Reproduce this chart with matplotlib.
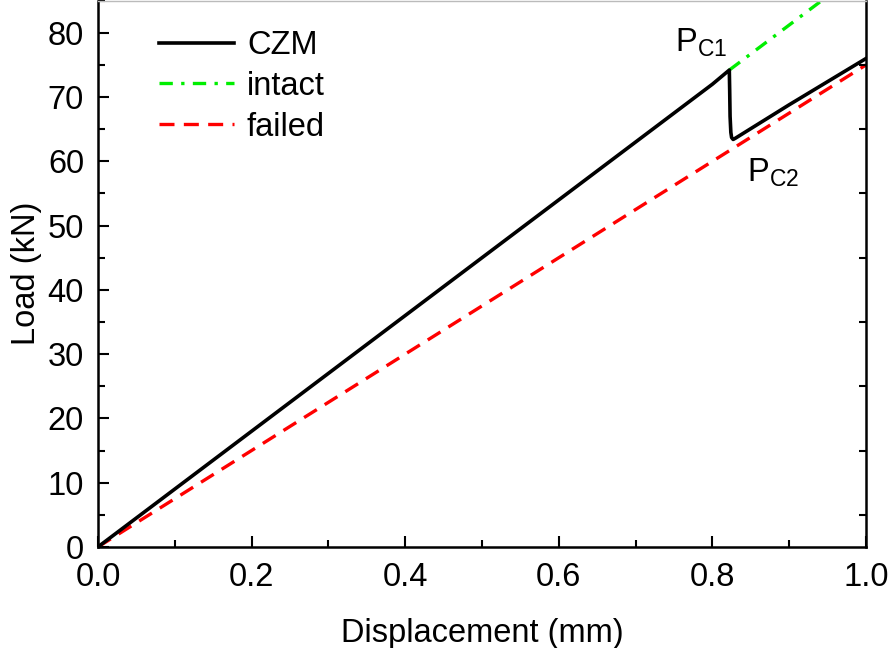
import numpy as np
import matplotlib.pyplot as plt
from matplotlib.ticker import MultipleLocator, FixedLocator

# Load-displacement data
czm_x = [0.0, 0.2, 0.4, 0.6, 0.8, 0.822, 0.8225, 0.823, 0.824, 0.825, 0.827, 0.83, 0.9, 1.0]
czm_y = [0.0, 18.0, 36.0, 54.0, 72.0, 74.2, 71.0, 67.0, 64.5, 63.7, 63.4, 63.6, 68.8, 76.0]
intact_x = [0.822, 0.95]
intact_y = [74.2, 85.7]
failed_x = [0.0, 0.5, 1.0]
failed_y = [0.0, 37.5, 75.0]

plt.rcParams['font.family'] = ['Liberation Sans', 'DejaVu Sans']
plt.rcParams['mathtext.fontset'] = 'custom'
plt.rcParams['mathtext.rm'] = 'Liberation Sans'

fs = 23.5

fig = plt.figure(figsize=(8.94, 6.48), dpi=100)
ax = fig.add_axes([0.1096, 0.156, 0.8591, 0.843])

ax.plot(failed_x, failed_y, color='red', lw=2.4, ls=(0, (4.5, 2.8)), label='failed', zorder=2)
ax.plot(intact_x, intact_y, color='#00ee00', lw=2.4, ls=(0, (4, 2.5, 1, 2.5)), label='intact', zorder=2)
ax.plot(czm_x, czm_y, color='black', lw=2.6, label='CZM', zorder=3)

ax.set_xlim(0, 1.0)
ax.set_ylim(0, 85)
ax.xaxis.set_major_locator(MultipleLocator(0.2))
ax.xaxis.set_minor_locator(MultipleLocator(0.1))
ax.yaxis.set_major_locator(MultipleLocator(10))
ax.yaxis.set_minor_locator(MultipleLocator(5))
ax.tick_params(which='both', direction='in', width=1.5, labelsize=fs)
ax.tick_params(which='major', length=8)
ax.tick_params(axis='x', which='major', pad=11)
ax.tick_params(axis='y', which='major', pad=10)
ax.tick_params(which='minor', length=5)

for s in ['left', 'bottom', 'right']:
    ax.spines[s].set_linewidth(1.8)
ax.spines['top'].set_color('#bbbbbb')
ax.spines['top'].set_linewidth(1.0)

# right axis: only minor ticks
ax2 = ax.twinx()
ax2.set_ylim(0, 85)
ax2.yaxis.set_major_locator(FixedLocator(np.arange(5, 85, 10)))
ax2.tick_params(direction='in', length=5, width=1.5, labelright=False)
for s in ax2.spines.values():
    s.set_visible(False)

ax.set_xlabel('Displacement (mm)', fontsize=fs, labelpad=18)
ax.set_ylabel('Load (kN)', fontsize=fs, labelpad=4)

h, l = ax.get_legend_handles_labels()
order = [2, 1, 0]
ax.legend([h[i] for i in order], [l[i] for i in order], loc='upper left',
          frameon=False, fontsize=fs, bbox_to_anchor=(0.041, 1.0),
          handlelength=2.3, handletextpad=0.4, labelspacing=0.3)

ax.text(0.751, 77.0, r'$\mathregular{P_{C1}}$', fontsize=fs)
ax.text(0.845, 56.9, r'$\mathregular{P_{C2}}$', fontsize=fs)

fig.savefig('out.png', dpi=100)
